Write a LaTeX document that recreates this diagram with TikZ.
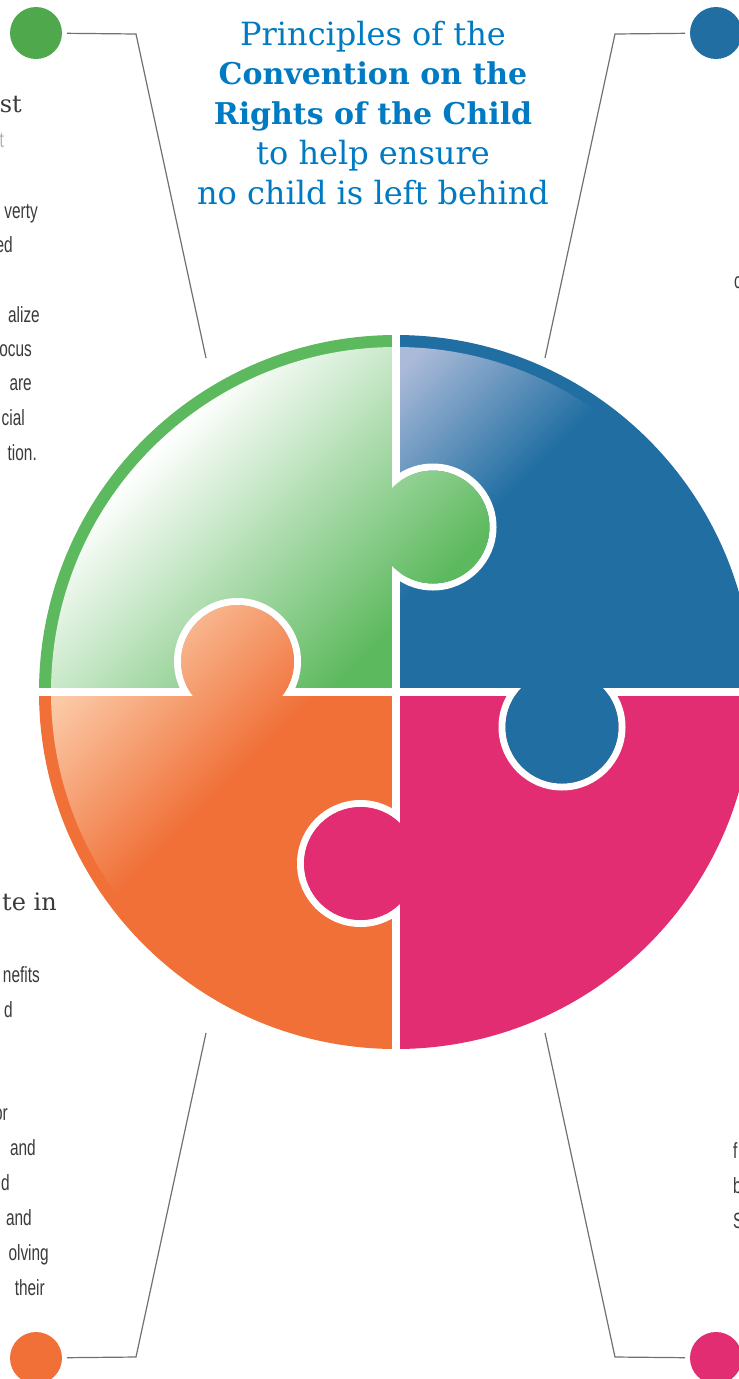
\documentclass[tikz,border=0pt]{standalone}
\usepackage{fontspec}
\newfontfamily\slabfont{DejaVu Serif}
\newfontfamily\bodyfont[FakeStretch=0.7]{Liberation Sans}
\definecolor{pgreen}{RGB}{92,185,93}
\definecolor{dgreen}{RGB}{80,168,76}
\definecolor{pblue}{RGB}{33,111,162}
\definecolor{lblue}{RGB}{170,186,216}
\definecolor{porange}{RGB}{240,112,56}
\definecolor{lorange}{RGB}{251,201,166}
\definecolor{ppink}{RGB}{226,45,114}
\definecolor{titleblue}{RGB}{0,122,194}
\definecolor{leadgray}{RGB}{112,112,112}
\definecolor{textgray}{RGB}{58,58,58}
\pgfdeclareverticalshading{greenfade}{100bp}{color(0bp)=(pgreen); color(30bp)=(pgreen); color(66bp)=(white); color(100bp)=(white)}
\pgfdeclareverticalshading{bluefade}{100bp}{color(0bp)=(pblue); color(62bp)=(pblue); color(82bp)=(lblue); color(100bp)=(lblue)}
\pgfdeclareverticalshading{orangefade}{100bp}{color(0bp)=(porange); color(53bp)=(porange); color(75bp)=(lorange); color(100bp)=(lorange)}
\begin{document}
\begin{tikzpicture}[x=1pt, y=-1pt,
  dot/.style={shape=circle, minimum size=52pt, inner sep=0pt, outer sep=5pt},
  leader/.style={draw=leadgray, line width=1.2pt},
  gap/.style={draw=white, line width=7.5pt},
  ring/.style={draw=white, line width=7pt},
  tlight/.style={font=\slabfont\fontsize{32pt}{40pt}\selectfont, text=titleblue, inner sep=0pt, anchor=base},
  tbold/.style={font=\slabfont\bfseries\fontsize{30pt}{40pt}\selectfont, text=titleblue, inner sep=0pt, anchor=base},
  head/.style={font=\slabfont\fontsize{24pt}{30pt}\selectfont, text=textgray, inner sep=0pt, anchor=base east},
  body/.style={font=\bodyfont\fontsize{22pt}{28pt}\selectfont, text=textgray, inner sep=0pt, anchor=base east},
  bodyr/.style={body, anchor=base west}]
\useasboundingbox (0,0) rectangle (739,1379);
\coordinate (c) at (396,692);
% outer bands
\fill[pgreen] (c) -- (39,692) arc[start angle=180, end angle=270, radius=357] -- cycle;
\fill[pblue] (c) -- (396,335) arc[start angle=270, end angle=360, radius=357] -- cycle;
\fill[ppink] (c) -- (753,692) arc[start angle=0, end angle=90, radius=357] -- cycle;
\fill[porange] (c) -- (396,1049) arc[start angle=90, end angle=180, radius=357] -- cycle;
% inner fades
\begin{scope}
\clip (c) -- (51,692) arc[start angle=180, end angle=270, radius=345] -- cycle;
\shade[shading=greenfade, shading angle=45] (40,333) rectangle (506,700);
\end{scope}
\begin{scope}
\clip (c) -- (396,347) arc[start angle=270, end angle=360, radius=345] -- cycle;
\shade[shading=bluefade, shading angle=45] (396,335) rectangle (760,790);
\end{scope}
\begin{scope}
\clip (c) -- (396,1037) arc[start angle=90, end angle=180, radius=345] -- cycle;
\shade[shading=orangefade, shading angle=45] (40,600) rectangle (400,1050);
\end{scope}
% gaps
\draw[gap] (396,320) -- (396,1065);
\draw[gap] (20,692) -- (760,692);
% green tab
\begin{scope}
\clip (399.75,300) rectangle (760,700);
\draw[ring] (433,527) circle (60);
\end{scope}
\begin{scope}
\clip (433,527) circle (56.5);
\shade[shading=greenfade, shading angle=45] (40,333) rectangle (506,700);
\end{scope}
% blue tab
\begin{scope}
\clip (380,695.75) rectangle (760,820);
\draw[ring] (562,727) circle (60);
\end{scope}
\fill[pblue] (562,727) circle (56.5);
% pink tab
\begin{scope}
\clip (0,600) rectangle (392.25,1100);
\draw[ring] (360.5,863.5) circle (60);
\end{scope}
\fill[ppink] (360.5,863.5) circle (56.5);
% orange tab
\begin{scope}
\clip (0,300) rectangle (392,688.25);
\draw[ring] (237.5,661.5) circle (60);
\end{scope}
\begin{scope}
\clip (237.5,661.5) circle (56.5);
\shade[shading=orangefade, shading angle=45] (40,600) rectangle (400,1050);
\end{scope}
% leaders
\node[dot, fill=dgreen] (dg) at (36,33) {};
\node[dot, fill=pblue] (db) at (716,33) {};
\node[dot, fill=porange] (do) at (36,1358) {};
\node[dot, fill=ppink] (dp) at (716,1358) {};
\coordinate (kg) at (136,34);
\coordinate (eg) at (206,358);
\coordinate (kb) at (615,34);
\coordinate (eb) at (545,358);
\coordinate (ko) at (136,1357);
\coordinate (eo) at (206,1033);
\coordinate (kp) at (615,1357);
\coordinate (ep) at (545,1033);
\draw[leader] (dg) -- (kg) -- (eg);
\draw[leader] (db) -- (kb) -- (eb);
\draw[leader] (do) -- (ko) -- (eo);
\draw[leader] (dp) -- (kp) -- (ep);
% title
\node[tlight] (t1) at (373,45) {Principles of the};
\node[tbold] (t2) at (373,84) {Convention on the};
\node[tbold] (t3) at (373,124) {Rights of the Child};
\node[tlight] (t4) at (373,164) {to help ensure};
\node[tlight] (t5) at (373,204) {no child is left behind};
% cut text, left top
\node[head] (h1) at (22,112) {st};
\node[body, text=gray!60] (s1) at (4,147) {t};
\node[body] (a1) at (38,218) {verty};
\node[body] (a2) at (13,252) {ed};
\node[body] (a3) at (40,322) {alize};
\node[body] (a4) at (32,356) {ocus};
\node[body] (a5) at (32,390) {are};
\node[body] (a6) at (25,425) {cial};
\node[body] (a7) at (37,460) {tion.};
% cut text, left bottom
\node[head] (h2) at (57,910) {te in};
\node[body] (b1) at (40,982) {nefits};
\node[body] (b2) at (13,1017) {d};
\node[body] (b3) at (8,1120) {or};
\node[body] (b4) at (36,1155) {and};
\node[body] (b5) at (10,1190) {d};
\node[body] (b6) at (32,1225) {and};
\node[body] (b7) at (49,1260) {olving};
\node[body] (b8) at (45,1295) {their};
% cut text, right
\node[bodyr] (r1) at (734,288) {c};
\node[bodyr] (r2) at (733,1158) {f};
\node[bodyr] (r3) at (733,1193) {b};
\node[bodyr] (r4) at (733,1228) {S};
\end{tikzpicture}
\end{document}
